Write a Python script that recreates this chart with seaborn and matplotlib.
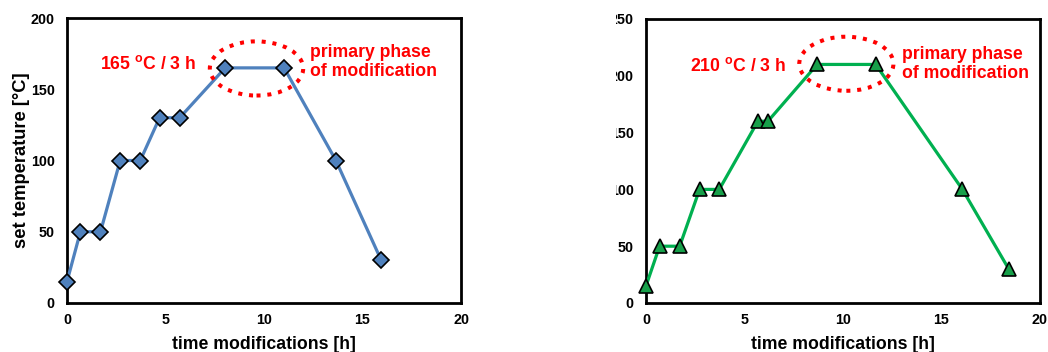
import matplotlib
matplotlib.use("Agg")
import matplotlib.pyplot as plt
from matplotlib.patches import Ellipse, Rectangle
import seaborn as sns
import pandas as pd

# Heating programme at 165 °C
time_165 = [0, 0.68, 1.7, 2.7, 3.72, 4.7, 5.72, 8.03, 11.02, 13.65, 15.95]
temp_165 = [15, 50, 50, 100, 100, 130, 130, 165, 165, 100, 30]

# Heating programme at 210 °C
time_210 = [0, 0.69, 1.71, 2.72, 3.72, 5.68, 6.19, 8.69, 11.66, 16.06, 18.41]
temp_210 = [15, 50, 50, 100, 100, 160, 160, 210, 210, 100, 30]

label_165 = r"165 $\mathbf{^o}$C / 3 h"
label_210 = r"210 $\mathbf{^o}$C / 3 h"
phase_label = "primary phase\nof modification"
x_label = "time modifications [h]"
y_label = "set temperature [°C]"
x_ticks = [0, 5, 10, 15, 20]
y_ticks_165 = [0, 50, 100, 150, 200]
y_ticks_210 = [0, 50, 100, 150, 200, 250]

sns.set_style("white")
plt.rcParams["font.family"] = ["Liberation Sans", "DejaVu Sans"]
plt.rcParams["font.weight"] = "bold"
plt.rcParams["text.color"] = "black"
plt.rcParams["axes.labelcolor"] = "black"
plt.rcParams["mathtext.fontset"] = "custom"
plt.rcParams["mathtext.bf"] = "Liberation Sans:bold"
plt.rcParams["mathtext.rm"] = "Liberation Sans:bold"

W, H = 1048, 352
fig = plt.figure(figsize=(W / 100, H / 100), dpi=100)
ax1 = fig.add_axes([67 / W, 1 - 303 / H, (461 - 67) / W, (303 - 18) / H])
ax2 = fig.add_axes([646 / W, 1 - 303 / H, (1040 - 646) / W, (303 - 19) / H])

df1 = pd.DataFrame({"time": time_165, "temp": temp_165})
df2 = pd.DataFrame({"time": time_210, "temp": temp_210})

sns.lineplot(data=df1, x="time", y="temp", ax=ax1, sort=False, estimator=None,
             color="#4F81BD", linewidth=2.3, marker="D", markersize=8.3,
             markerfacecolor="#4F81BD", markeredgecolor="black",
             markeredgewidth=1.2, zorder=3, clip_on=False)
sns.lineplot(data=df2, x="time", y="temp", ax=ax2, sort=False, estimator=None,
             color="#00B050", linewidth=2.3, marker="^", markersize=10,
             markerfacecolor="#17A04A", markeredgecolor="black",
             markeredgewidth=1.2, zorder=3, clip_on=False)

red = "#FF0000"
for ax, yt, ymax in [(ax1, y_ticks_165, 200), (ax2, y_ticks_210, 250)]:
    ax.set_xlim(0, 20)
    ax.set_ylim(0, ymax)
    ax.set_xticks(x_ticks)
    ax.set_yticks(yt)
    ax.tick_params(axis="both", direction="in", length=3, width=0.8,
                   color="#999999", labelsize=10.3, labelcolor="black")
    ax.tick_params(axis="y", pad=9)
    ax.tick_params(axis="x", pad=7)
    for lab in ax.get_xticklabels() + ax.get_yticklabels():
        lab.set_fontweight("bold")
    for sp in ax.spines.values():
        sp.set_visible(True)
        sp.set_color("black")
        sp.set_linewidth(2)
    ax.set_xlabel(x_label, fontsize=12.7, fontweight="bold", labelpad=7,
                  color="black")
    ax.set_ylabel("")

ax1.set_ylabel(y_label, fontsize=13.2, fontweight="bold", labelpad=0,
               color="black")

# Hold-phase markings
ax1.add_patch(Ellipse((9.62, 164.6), 4.74, 38, fill=False, edgecolor=red,
                      linewidth=2.9, linestyle=(0, (1, 1.7)), zorder=4))
ax2.add_patch(Ellipse((10.17, 210.6), 4.78, 47.6, fill=False, edgecolor=red,
                      linewidth=2.9, linestyle=(0, (1, 1.7)), zorder=4))

ax1.text(6.57, 167.5, label_165, color=red, fontsize=12.7, fontweight="bold",
         ha="right", va="center")
ax1.text(12.36, 169, phase_label, color=red, fontsize=12.7, fontweight="bold",
         ha="left", va="center", linespacing=1.15)
ax2.text(7.12, 209, label_210, color=red, fontsize=12.7, fontweight="bold",
         ha="right", va="center")
ax2.text(13.0, 210.3, phase_label, color=red, fontsize=12.7, fontweight="bold",
         ha="left", va="center", linespacing=1.15)

# Margin trimmed at the left edge of the second panel
fig.add_artist(Rectangle((586 / W, 1 - 312 / H), 30 / W, 308 / H,
                         transform=fig.transFigure, facecolor="white",
                         edgecolor="none", zorder=10))

fig.savefig("out.png", dpi=100)
